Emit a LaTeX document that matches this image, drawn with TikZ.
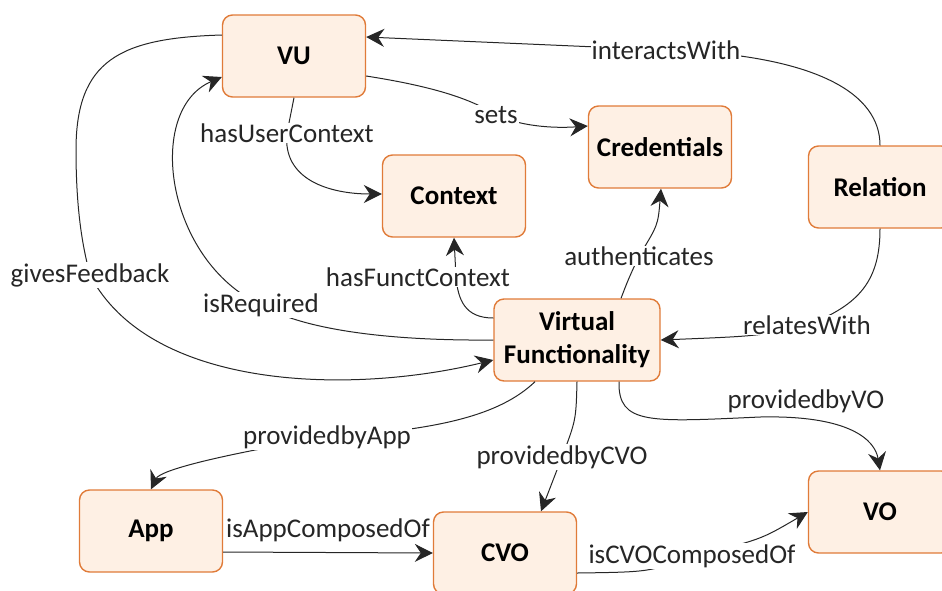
\documentclass[tikz,border=0pt]{standalone}
\usepackage{fontspec}
\setmainfont{Carlito}
\usepackage{tikz}
\usetikzlibrary{arrows.meta,positioning,calc}
\definecolor{boxfill}{HTML}{FEF0E4}
\definecolor{boxline}{HTML}{E07B39}
\definecolor{ink}{HTML}{262626}

\begin{document}
\begin{tikzpicture}[x=1pt,y=-1pt,
    concept/.style={draw=boxline, fill=boxfill, line width=1.4pt, rounded corners=10pt,
      minimum width=143pt, minimum height=82pt, inner sep=0pt, align=center,
      font=\bfseries\fontsize{27}{33}\selectfont},
    lbl/.style={fill=white, text=ink, inner sep=1pt, font=\fontsize{27}{32}\selectfont},
    link/.style={draw=ink, line width=1pt, -{Stealth[length=18pt,width=18pt,inset=6pt]}}]
    \useasboundingbox (0,0) rectangle (942,590);

    \node [concept] (vu) at (294,56) {VU};
    \node [concept] (cred) at (660,147) {Credentials};
    \node [concept] (ctx) at (454,196) {Context};
    \node [concept] (rel) at (880,187) {Relation};
    \node [concept, minimum width=166pt] (vf) at (577,340) {Virtual\\Functionality};
    \node [concept] (app) at (151,531) {App};
    \node [concept] (cvo) at (505,553) {CVO};
    \node [concept] (vo) at (880,512) {VO};

    \draw [link] (rel.north) .. controls (880,95) and (820,55) .. (666,50) node [lbl] (iwl) {interactsWith} -- ($(vu.east)+(0,-19)$);
    \draw [link] ($(vu.east)+(0,20)$) .. controls (430,86) and (470,98) .. (496,115) node [lbl] (setl) {sets} .. controls (525,128) and (560,128) .. ($(cred.west)+(0,-21)$);
    \draw [link] (vu.south) -- (287,133) node [lbl] (hucl) {hasUserContext} .. controls (282,180) and (330,194) .. ($(ctx.west)+(0,-2)$);
    \draw [link] ($(vf.west)+(0,-22)$) .. controls (465,318) and (458,300) .. (456,277) node [lbl, xshift=-38pt] (hfcl) {hasFunctContext} -- (ctx.south);
    \draw [link] ($(vf.north)+(44,0)$) .. controls (628,280) .. (639,256) node [lbl] (authl) {authenticates} .. controls (658,225) .. ($(cred.south)+(1,0)$);
    \draw [link] (rel.south) .. controls (880,280) and (860,305) .. (807,325) node [lbl] (rwl) {relatesWith} .. controls (760,336) .. (vf.east);
    \draw [link] (vf.west) .. controls (380,341) and (300,328) .. (261,305) node [lbl] (irl) {isRequired} .. controls (165,260) and (145,110) .. ($(vu.west)+(0,21)$);
    \draw [link] ($(vu.west)+(0,-21)$) .. controls (120,38) and (76,60) .. (76,150) .. controls (76,220) and (85,255) .. (90,275) node [lbl] (gfl) {givesFeedback} .. controls (150,390) and (350,395) .. ($(vf.west)+(0,20)$);
    \draw [link] ($(vf.south)+(-42,0)$) .. controls (500,415) and (440,430) .. (327,437) node [lbl] (pal) {providedbyApp} .. controls (220,455) and (160,470) .. (app.north);
    \draw [link] (vf.south) .. controls (576,420) .. (562,457) node [lbl] (pcl) {providedbyCVO} -- ($(cvo.north)+(36,0)$);
    \node [lbl] (pvl) at (806,401) {providedbyVO};
    \draw [link] ($(vf.south)+(42,0)$) .. controls (618,425) and (650,422) .. (760,417) .. controls (850,415) and (875,440) .. (vo.north);
    \draw [link] ($(app.east)+(0,21)$) -- node [lbl, yshift=22pt] (iacl) {isAppComposedOf} ($(cvo.west)+(0,0)$);
    \draw [link] ($(cvo.east)+(0,20)$) .. controls (650,572) .. (692,556) node [lbl] (icvl) {isCVOComposedOf} .. controls (760,540) .. (vo.west);
\end{tikzpicture}
\end{document}
